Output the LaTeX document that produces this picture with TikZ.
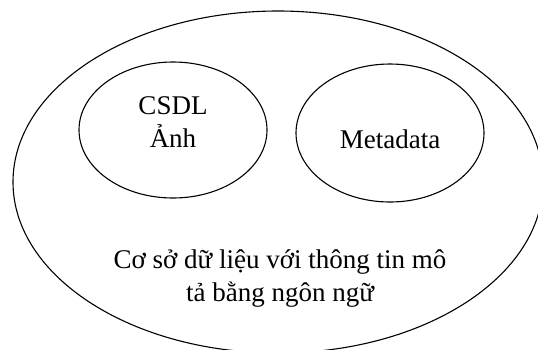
\documentclass[tikz,border=0pt]{standalone}
\usepackage{fontspec}
\setmainfont{Liberation Serif}
\usetikzlibrary{shapes.geometric}
\begin{document}
\begin{tikzpicture}[x=1pt,y=-1pt,
  oval/.style={ellipse,draw,line width=1.1pt,inner sep=0pt,outer sep=0pt},
  label/.style={font=\fontsize{27}{33}\selectfont,align=center,inner sep=0pt}]
  \useasboundingbox (0,0) rectangle (538,349);
  \clip (0,0) rectangle (538,349);
  % outer database region
  \node[oval,minimum width=530pt,minimum height=342pt] (db) at (278,182) {};
  % inner parts
  \node[oval,minimum width=188pt,minimum height=136pt] (img) at (173,130) {};
  \node[oval,minimum width=188pt,minimum height=138pt] (meta) at (390,133) {};
  % texts (base anchor sits on the last line's baseline)
  \node[label,anchor=base] (imgtxt) at (173,147) {CSDL\\Ảnh};
  \node[label,anchor=base] (metatxt) at (390,148) {Metadata};
  \node[label,anchor=base] (dbtxt) at (280,301) {Cơ sở dữ liệu với thông tin mô\\tả bằng ngôn ngữ};
\end{tikzpicture}
\end{document}
